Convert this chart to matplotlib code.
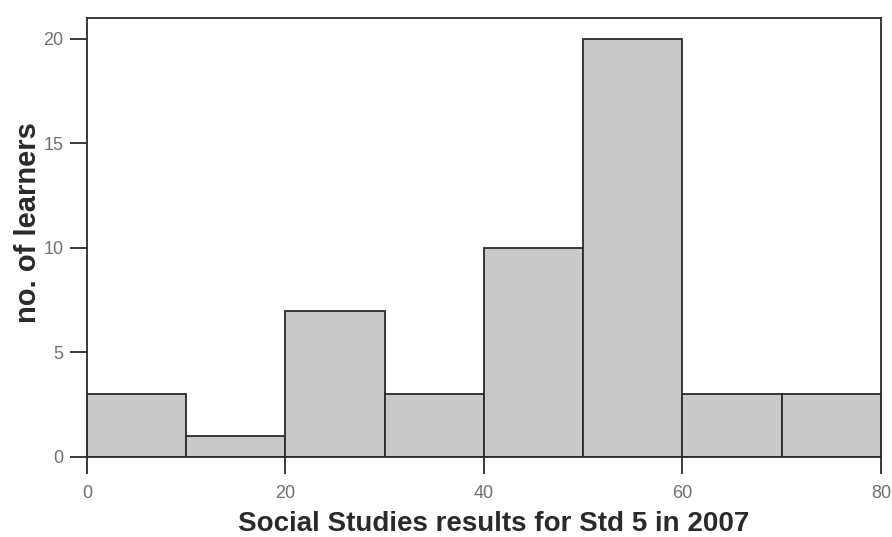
import numpy as np
import matplotlib
matplotlib.use("Agg")
from matplotlib import pyplot as plt

# histogram of Social Studies results (bins of 10 marks)
bin_edges = [0, 10, 20, 30, 40, 50, 60, 70, 80]
counts = [3, 1, 7, 3, 10, 20, 3, 3]
x_ticks = [0, 20, 40, 60, 80]
y_ticks = [0, 5, 10, 15, 20]

plt.rcParams.update({"font.family": "Liberation Sans"})

fig = plt.figure(figsize=(8.92, 5.37), dpi=100)
ax = fig.add_axes([0.0975, 0.149, 0.890, 0.8175])

widths = np.diff(bin_edges)
ax.bar(bin_edges[:-1], counts, width=widths, align="edge",
       color="#c9c9c9", edgecolor="#2a2a2a", linewidth=1.3)

ax.set_xlim(0, 80)
ax.set_ylim(0, 21)
ax.set_xticks(x_ticks)
ax.set_yticks(y_ticks)
ax.tick_params(direction="out", length=12, width=1.3, colors="#2a2a2a",
               labelcolor="#707070", labelsize=13, pad=5)
ax.tick_params(axis="x", pad=8)
for s in ax.spines.values():
    s.set_linewidth(1.3)
    s.set_color("#2a2a2a")

ax.set_xlabel("Social Studies results for Std 5 in 2007", fontsize=20,
              fontweight="bold", color="#2a2a2a")
ax.xaxis.set_label_coords(0.512, -0.122)
ax.set_ylabel("no. of learners", fontsize=21, fontweight="bold",
              color="#2a2a2a")
ax.yaxis.set_label_coords(-0.057, 0.535)

fig.savefig("out.png", dpi=100)
